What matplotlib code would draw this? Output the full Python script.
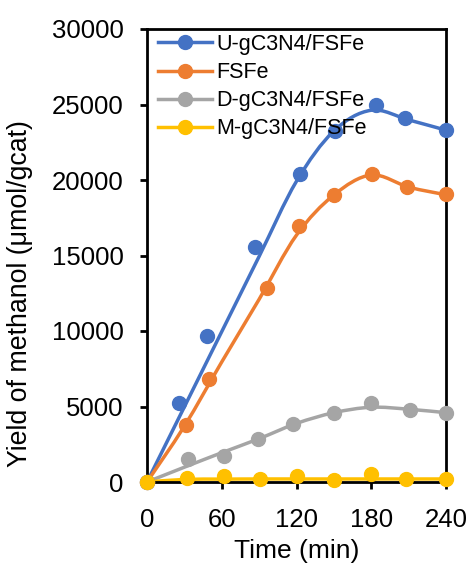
import numpy as np
import matplotlib
matplotlib.use("Agg")
import matplotlib.pyplot as plt
from matplotlib.path import Path
from matplotlib.patches import PathPatch

plt.rcParams['font.family'] = ['Liberation Sans', 'DejaVu Sans']

labels = ["U-gC3N4/FSFe", "FSFe", "D-gC3N4/FSFe", "M-gC3N4/FSFe"]
colors = ["#4472C4", "#ED7D31", "#A5A5A5", "#FFC000"]

# measured points (markers)
u_x = [0, 26, 48, 87, 123, 151, 184, 207, 240]
u_y = [0, 5250, 9650, 15580, 20400, 23250, 25000, 24100, 23300]
f_x = [0, 31, 50, 96, 122, 150, 181, 209, 240]
f_y = [0, 3780, 6800, 12870, 16980, 19010, 20380, 19520, 19050]
d_x = [0, 33, 62, 89, 117, 150, 180, 211, 240]
d_y = [0, 1500, 1745, 2825, 3865, 4590, 5250, 4800, 4590]
m_x = [0, 32, 62, 91, 120, 150, 180, 208, 240]
m_y = [0, 260, 370, 220, 400, 150, 530, 200, 200]

# fitted curves drawn as smooth lines
curve_x = [0, 30, 60, 90, 120, 150, 180, 210, 240]
u_curve = [0, 4980, 9960, 14940, 19920, 23250, 24620, 23980, 23300]
f_curve = [0, 3700, 7950, 12100, 16350, 19010, 20330, 19530, 19020]
d_curve = [0, 980, 1940, 2870, 3880, 4590, 4950, 4820, 4590]
m_curve = [0, 170, 190, 200, 200, 200, 200, 200, 200]

points = [(u_x, u_y), (f_x, f_y), (d_x, d_y), (m_x, m_y)]
curves = [u_curve, f_curve, d_curve, m_curve]


def smooth_path(xs, ys):
    p = np.column_stack([xs, ys]).astype(float)
    n = len(p)
    verts = [p[0]]
    codes = [Path.MOVETO]
    for i in range(n - 1):
        p0 = p[i - 1] if i > 0 else p[i]
        p1 = p[i]
        p2 = p[i + 1]
        p3 = p[i + 2] if i + 2 < n else p[i + 1]
        c1 = p1 + (p2 - p0) / 6.0
        c2 = p2 - (p3 - p1) / 6.0
        verts += [c1, c2, p2]
        codes += [Path.CURVE4] * 3
    return Path(verts, codes)


fig = plt.figure(figsize=(4.69, 5.64), dpi=100)
ax = fig.add_axes([147 / 469, 1 - 482 / 564, 299 / 469, 453 / 564])

LW = 2.5
MS = 10
for (x, y), cy, c, lab in zip(points, curves, colors, labels):
    patch = PathPatch(smooth_path(curve_x, cy), fill=False, edgecolor=c,
                      lw=LW, zorder=2, clip_on=False, capstyle='round')
    ax.add_patch(patch)
    ax.plot(x, y, 'o', color=c, ms=MS, zorder=3, clip_on=False)
    ax.plot([], [], '-o', color=c, lw=LW, ms=MS, label=lab)

ax.set_xlim(0, 240)
ax.set_ylim(0, 30000)
ax.set_xticks([0, 60, 120, 180, 240])
ax.set_yticks([0, 5000, 10000, 15000, 20000, 25000, 30000])
ax.tick_params(direction='out', length=5, width=2, labelsize=18.5)
ax.tick_params(axis='y', pad=12)
ax.tick_params(axis='x', pad=14)
for s in ax.spines.values():
    s.set_linewidth(2)
ax.set_xlabel("Time (min)", fontsize=19, labelpad=5)
ax.set_ylabel("Yield of methanol (μmol/gcat)", fontsize=19.3, labelpad=13)
ax.yaxis.label.set_y(0.415)
ax.legend(loc='upper left', bbox_to_anchor=(11 / 299, 1 - 5 / 453), frameon=False,
          fontsize=15.5, handlelength=2.5, handletextpad=0.2, labelspacing=0.33,
          borderaxespad=0, borderpad=0)

fig.savefig("out.png", dpi=100)
